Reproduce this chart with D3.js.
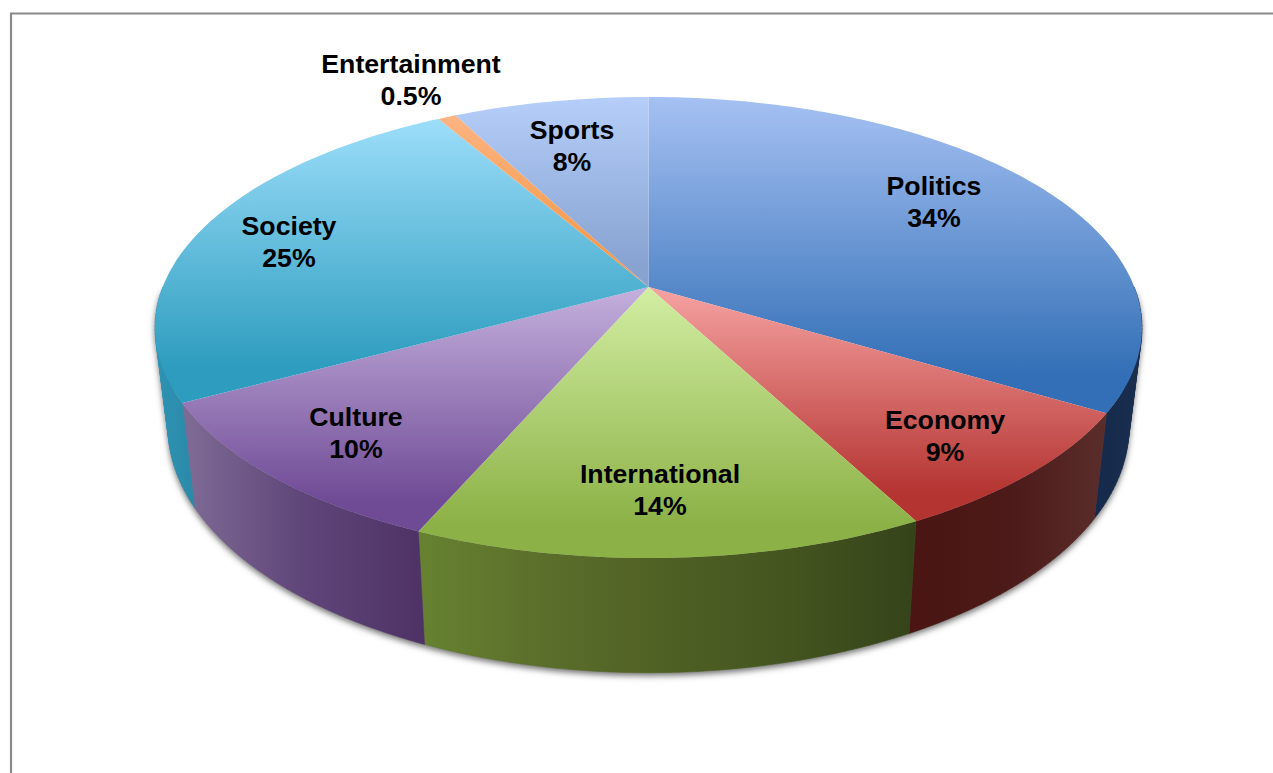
<!DOCTYPE html>
<html>
<head>
<meta charset="utf-8">
<title>Share of news topics</title>
<script src="https://cdn.jsdelivr.net/npm/d3@7"></script>
<style>
    html, body { margin: 0; padding: 0; background: #fff; overflow: hidden; }
    svg { display: block; }
    text { font-family: "Liberation Sans", Arial, sans-serif; font-weight: bold; font-size: 26.7px; fill: #000; text-anchor: middle; }
</style>
</head>
<body>
<svg id="chart" width="1273" height="773"></svg>
<script>
// Values
var categories = ['Politics', 'Economy', 'International', 'Culture', 'Society', 'Entertainment', 'Sports'];
var shareLabels = ['34%', '9%', '14%', '10%', '25%', '0.5%', '8%'];
// slice sizes as actually drawn (the printed labels are rounded)
var sliceShares = [33.6, 8.7, 14.2, 10.6, 24.6, 0.7, 7.6];

// top face gradient: [top of slice, bottom of slice]
var topColors = [
    ['#a6c1f3', '#326fb6'], ['#f6a3a2', '#b43431'], ['#d2eea3', '#8cb146'], ['#c4b0dd', '#6f4a95'],
    ['#9cdefa', '#2d9cbe'], ['#fcb482', '#f79646'], ['#b5cefa', '#88a3d1']
];
// side wall gradient, left to right
var sideColors = [
    ['#152a4c', '#1a2e4e'], ['#4a1513', '#4c1a18', '#5a2d2b'], ['#668230', '#5c6e2b', '#4f6024', '#44541f', '#35431a'], ['#7f6c96', '#5f4579', '#4e3266'],
    ['#2f93b4', '#2b89a8'], ['#b0692f', '#b0692f'], ['#6f86ad', '#6f86ad']
];

var labelX = [934, 945, 660, 356, 289, 411, 572];
var labelY = [186, 420, 474, 417, 226, 64, 130];

var width = 1273, height = 773;
var lineGap = 32;
var faceFade = 0.88;

// perspective disc: apex of the pie sits above the middle of the ellipse
var tilt = 0.1757;
var topX = d3.scaleLinear().domain([-1, 1]).range([648.5 - 485.8, 648.5 + 485.8]);
var topY = d3.scaleLinear().domain([-1, 1]).range([287 - 223.4, 287 + 223.4]);
var bottomX = d3.scaleLinear().domain([-1, 1]).range([648.5 - 473, 648.5 + 473]);
var bottomY = d3.scaleLinear().domain([-1, 1]).range([384 - 238, 384 + 238]);

function rim(sx, sy, angle) {
    var u = Math.sin(angle), v = -Math.cos(angle);
    var k = 1 - tilt * v;
    return [sx(u / k), sy(v / k)];
}

function arcPoints(sx, sy, a0, a1) {
    var n = Math.max(2, Math.ceil((a1 - a0) * 60));
    return d3.range(n + 1).map(function (i) {
        return rim(sx, sy, a0 + (a1 - a0) * i / n);
    });
}

var svg = d3.select('#chart');
var defs = svg.append('defs');
var openLine = d3.line();
var closedLine = d3.line().curve(d3.curveLinearClosed);

var arcs = d3.pie().sort(null).value(function (d) { return d; })(sliceShares);

// Wall of one slice as small quads, all wound the same way so the fold at the
// left and right silhouette stays filled. Only the part facing the viewer.
function wallPath(a0, a1) {
    var from = Math.max(a0, Math.PI / 2);
    var to = Math.min(a1, 3 * Math.PI / 2);
    if (to <= from) return null;
    var upper = arcPoints(topX, topY, from, to);
    var lower = arcPoints(bottomX, bottomY, from, to);
    var d = '';
    var xs = [];
    d3.range(upper.length - 1).forEach(function (j) {
        var quad = [upper[j], upper[j + 1], lower[j + 1], lower[j]];
        if (d3.polygonArea(quad) < 0) quad.reverse();
        d += closedLine(quad);
        xs = xs.concat(quad.map(function (p) { return p[0]; }));
    });
    return { d: d, x: d3.extent(xs) };
}

defs.append('filter')
    .attr('id', 'soft')
    .attr('x', '-5%').attr('y', '-5%').attr('width', '110%').attr('height', '110%')
    .append('feGaussianBlur')
    .attr('stdDeviation', 3);

// gradients have to follow each slice's own extent
function addGradient(id, stops, x1, y1, x2, y2) {
    var g = defs.append('linearGradient')
        .attr('id', id)
        .attr('gradientUnits', 'userSpaceOnUse')
        .attr('x1', x1).attr('y1', y1).attr('x2', x2).attr('y2', y2);
    stops.forEach(function (c, i) {
        g.append('stop')
            .attr('offset', i / (stops.length - 1))
            .attr('stop-color', c);
    });
}

// frame, open on the right and bottom like the cropped original
svg.append('path')
    .attr('d', openLine([[11, height], [11, 13.5], [width, 13.5]]))
    .attr('fill', 'none')
    .attr('stroke', '#8a8a8a')
    .attr('stroke-width', 2.2);

// shadow under the disc
svg.append('path')
    .attr('d', wallPath(Math.PI / 2, 3 * Math.PI / 2).d)
    .attr('transform', 'translate(0,3)')
    .attr('fill', '#6e6e6e')
    .attr('filter', 'url(#soft)');

// side walls first, the top face goes over them
var walls = svg.append('g');
arcs.forEach(function (d, i) {
    var wall = wallPath(d.startAngle, d.endAngle);
    if (!wall) return;
    addGradient('side' + i, sideColors[i], wall.x[0], 0, wall.x[1], 0);
    walls.append('path')
        .attr('d', wall.d)
        .attr('fill', 'url(#side' + i + ')')
        .attr('stroke', 'url(#side' + i + ')')
        .attr('stroke-width', 0.5);
});

var faces = svg.append('g');
arcs.forEach(function (d, i) {
    var pts = [[topX(0), topY(0)]].concat(arcPoints(topX, topY, d.startAngle, d.endAngle));
    var yr = d3.extent(pts, function (p) { return p[1]; });
    addGradient('face' + i, topColors[i], 0, yr[0], 0, yr[0] + (yr[1] - yr[0]) * faceFade);
    faces.append('path')
        .attr('d', closedLine(pts))
        .attr('fill', 'url(#face' + i + ')');
});

var labels = svg.append('g');
categories.forEach(function (name, i) {
    labels.append('text').attr('x', labelX[i]).attr('y', labelY[i] + 9).text(name);
    labels.append('text').attr('x', labelX[i]).attr('y', labelY[i] + 9 + lineGap).text(shareLabels[i]);
});
</script>
</body>
</html>
